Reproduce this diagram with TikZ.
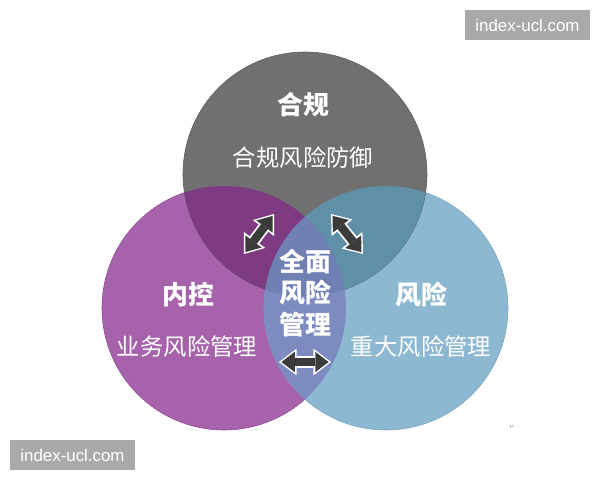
\documentclass[tikz,border=0pt]{standalone}
\usepackage{fontspec}
\usetikzlibrary{arrows.meta}
\newfontfamily\cjk{Noto Sans CJK SC}
\newfontfamily\wmfont{Liberation Sans}
\newfontfamily\symfont{DejaVu Sans}
\definecolor{hegui}{HTML}{707070}
\definecolor{heguiedge}{HTML}{5E5E5E}
\definecolor{neikong}{HTML}{A662AB}
\definecolor{neikongedge}{HTML}{8E4E94}
\definecolor{fengxian}{HTML}{8DB8D1}
\definecolor{fengxianedge}{HTML}{7AA3BC}
\definecolor{hgnk}{HTML}{7E3B82}
\definecolor{hgfx}{HTML}{5F90A8}
\definecolor{nkfx}{HTML}{7D8BC0}
\definecolor{quanmian}{HTML}{7080B3}
\definecolor{arrowgray}{HTML}{3B3B3B}
\definecolor{wmgray}{HTML}{A9A9A9}

\begin{document}
\begin{tikzpicture}[x=0.025cm,y=-0.025cm,
    title/.style={text=white,font=\cjk\bfseries\fontsize{18.4}{22}\selectfont},
    sub/.style={text=white,font=\cjk\fontsize{16.6}{20}\selectfont},
    halo/.style={white,line width=8.5pt,
      {Triangle[length=12.5pt,width=19pt,line width=0pt]}-{Triangle[length=12.5pt,width=19pt,line width=0pt]}},
    core/.style={arrowgray,line width=6pt,shorten <=1.7pt,shorten >=1.7pt,
      {Triangle[length=9.5pt,width=14.5pt,line width=0pt]}-{Triangle[length=9.5pt,width=14.5pt,line width=0pt]}},
    wm/.style={fill=wmgray,text=white,font=\wmfont\fontsize{12}{14}\selectfont,
      minimum width=3.125cm,minimum height=0.75cm,inner sep=0pt}]
  \useasboundingbox (0,0) rectangle (600,480);
  \fill[white] (0,0) rectangle (600,480);
  \def\rad{122}
  \coordinate (top) at (305,174);
  \coordinate (left) at (224,308);
  \coordinate (right) at (386,308);
  % three circles
  \filldraw[fill=neikong,draw=neikongedge,thin] (left) circle[radius=\rad];
  \filldraw[fill=fengxian,draw=fengxianedge,thin] (right) circle[radius=\rad];
  \filldraw[fill=hegui,draw=heguiedge,thin] (top) circle[radius=\rad];
  % overlaps
  \begin{scope}
    \clip (left) circle[radius=\rad];
    \fill[hgnk] (top) circle[radius=\rad];
    \fill[nkfx] (right) circle[radius=\rad];
  \end{scope}
  \begin{scope}
    \clip (right) circle[radius=\rad];
    \fill[hgfx] (top) circle[radius=\rad];
  \end{scope}
  \begin{scope}
    \clip (left) circle[radius=\rad];
    \clip (right) circle[radius=\rad];
    \fill[quanmian] (top) circle[radius=\rad];
  \end{scope}
  % labels
  \node[title] (hgT) at (303,105) {合规};
  \node[sub] (hgS) at (303,158) {合规风险防御};
  \node[title] (nkT) at (188,295) {内控};
  \node[sub] (nkS) at (187,347) {业务风险管理};
  \node[title] (fxT) at (421,295) {风险};
  \node[sub] (fxS) at (421,347) {重大风险管理};
  \node[title,align=center,font=\cjk\bfseries\fontsize{18.4}{22.5}\selectfont] %
    (qm) at (305,293) {全面\\风险\\管理};
  % double arrows
  \coordinate (a1) at (244,254); \coordinate (a2) at (274,214);
  \coordinate (b1) at (331,214); \coordinate (b2) at (363,254);
  \coordinate (c1) at (279,362); \coordinate (c2) at (331,362);
  \foreach \p/\q in {a1/a2,b1/b2,c1/c2} {
    \draw[halo] (\p) -- (\q);
    \draw[core] (\p) -- (\q);
  }
  % watermarks
  \node[wm] (wm1) at (527.5,25) {index-ucl.com};
  \node[wm] (wm2) at (72.5,455) {index-ucl.com};
  \node[text=gray,font=\symfont\fontsize{4}{5}\selectfont] (ret) at (512,427) {↵};
\end{tikzpicture}
\end{document}
